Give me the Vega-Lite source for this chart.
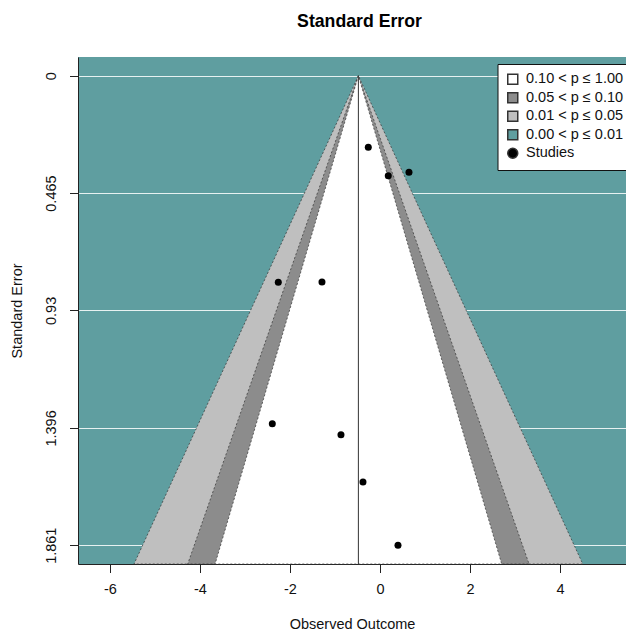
{
  "$schema": "https://vega.github.io/schema/vega-lite/v6.json",
  "width": 548,
  "height": 507,
  "autosize": {"type": "none"},
  "padding": {"left": 78, "top": 57, "right": 0, "bottom": 68},
  "background": "white",
  "config": {
    "view": {"fill": "#5F9EA0", "stroke": null},
    "font": "Liberation Sans"
  },
  "title": {
    "text": "Standard Error",
    "font": "Liberation Sans",
    "fontSize": 17.7,
    "fontWeight": "bold",
    "color": "black",
    "anchor": "middle",
    "dx": 7.5,
    "baseline": "alphabetic",
    "offset": 12
  },
  "datasets": {
    "contours": [
      {"level": "0.01 < p ≤ 0.05", "se": 0, "lo": -0.48, "hi": -0.48},
      {"level": "0.01 < p ≤ 0.05", "se": 1.9354, "lo": -5.466, "hi": 4.506},
      {"level": "0.05 < p ≤ 0.10", "se": 0, "lo": -0.48, "hi": -0.48},
      {"level": "0.05 < p ≤ 0.10", "se": 1.9354, "lo": -4.273, "hi": 3.313},
      {"level": "0.10 < p ≤ 1.00", "se": 0, "lo": -0.48, "hi": -0.48},
      {"level": "0.10 < p ≤ 1.00", "se": 1.9354, "lo": -3.664, "hi": 2.704}
    ],
    "estimate": [
      {"est": -0.48, "top": 0, "bottom": 1.9354}
    ],
    "studies": [
      {"level": "Studies", "yi": -0.26, "sei": 0.2835},
      {"level": "Studies", "yi": 0.184, "sei": 0.396},
      {"level": "Studies", "yi": 0.644, "sei": 0.382},
      {"level": "Studies", "yi": -2.26, "sei": 0.819},
      {"level": "Studies", "yi": -1.289, "sei": 0.818},
      {"level": "Studies", "yi": -2.393, "sei": 1.379},
      {"level": "Studies", "yi": -0.867, "sei": 1.423},
      {"level": "Studies", "yi": -0.378, "sei": 1.61},
      {"level": "Studies", "yi": 0.4, "sei": 1.861}
    ]
  },
  "encoding": {
    "x": {
      "type": "quantitative",
      "scale": {"domain": [-6.711, 5.467], "nice": false, "zero": false},
      "axis": {
        "title": "Observed Outcome",
        "values": [-6, -4, -2, 0, 2, 4],
        "labelExpr": "toString(datum.value)",
        "grid": false,
        "domainColor": "#222",
        "domainWidth": 1,
        "tickColor": "#222",
        "tickSize": 8.5,
        "tickWidth": 1,
        "labelFont": "Liberation Sans",
        "labelFontSize": 14.5,
        "labelColor": "#111",
        "labelPadding": 9.5,
        "labelFlush": false,
        "titleFont": "Liberation Sans",
        "titleFontSize": 14.5,
        "titleFontWeight": "normal",
        "titleColor": "#111",
        "titlePadding": 22
      }
    },
    "y": {
      "type": "quantitative",
      "scale": {"domain": [-0.0744, 1.9354], "reverse": true, "nice": false, "zero": false},
      "axis": {
        "title": "Standard Error",
        "values": [0, 0.465, 0.93, 1.396, 1.861],
        "labelExpr": "toString(datum.value)",
        "grid": true,
        "gridColor": "white",
        "gridWidth": 1,
        "gridOpacity": 0.85,
        "domainColor": "#222",
        "domainWidth": 1,
        "tickColor": "#222",
        "tickSize": 8.5,
        "tickWidth": 1,
        "labelAngle": 270,
        "labelAlign": "center",
        "labelBaseline": "alphabetic",
        "labelPadding": 14,
        "labelFlush": false,
        "labelFont": "Liberation Sans",
        "labelFontSize": 14.5,
        "labelColor": "#111",
        "titleFont": "Liberation Sans",
        "titleFontSize": 14.5,
        "titleFontWeight": "normal",
        "titleColor": "#111",
        "titlePadding": 19
      }
    }
  },
  "layer": [
    {
      "data": {"name": "contours"},
      "transform": [{"filter": "datum.level === '0.01 < p ≤ 0.05'"}],
      "mark": {"type": "area", "orient": "horizontal", "stroke": "#333", "strokeWidth": 0.7, "strokeDash": [2, 2], "opacity": 1},
      "encoding": {
        "x": {"field": "lo", "type": "quantitative"},
        "x2": {"field": "hi"},
        "y": {"field": "se", "type": "quantitative"},
        "fill": {"field": "level", "type": "nominal"}
      }
    },
    {
      "data": {"name": "contours"},
      "transform": [{"filter": "datum.level === '0.05 < p ≤ 0.10'"}],
      "mark": {"type": "area", "orient": "horizontal", "stroke": "#333", "strokeWidth": 0.7, "strokeDash": [2, 2], "opacity": 1},
      "encoding": {
        "x": {"field": "lo", "type": "quantitative"},
        "x2": {"field": "hi"},
        "y": {"field": "se", "type": "quantitative"},
        "fill": {"field": "level", "type": "nominal"}
      }
    },
    {
      "data": {"name": "contours"},
      "transform": [{"filter": "datum.level === '0.10 < p ≤ 1.00'"}],
      "mark": {"type": "area", "orient": "horizontal", "stroke": "#333", "strokeWidth": 0.7, "strokeDash": [2, 2], "opacity": 1},
      "encoding": {
        "x": {"field": "lo", "type": "quantitative"},
        "x2": {"field": "hi"},
        "y": {"field": "se", "type": "quantitative"},
        "fill": {"field": "level", "type": "nominal"}
      }
    },
    {
      "data": {"name": "estimate"},
      "mark": {"type": "rule", "color": "#333", "strokeWidth": 1},
      "encoding": {
        "x": {"field": "est", "type": "quantitative"},
        "y": {"field": "top", "type": "quantitative"},
        "y2": {"field": "bottom"}
      }
    },
    {
      "data": {"name": "studies"},
      "mark": {"type": "point", "filled": true, "size": 49, "opacity": 1},
      "encoding": {
        "x": {"field": "yi", "type": "quantitative"},
        "y": {"field": "sei", "type": "quantitative"},
        "shape": {
          "field": "level",
          "type": "nominal",
          "scale": {
            "domain": ["0.10 < p ≤ 1.00", "0.05 < p ≤ 0.10", "0.01 < p ≤ 0.05", "0.00 < p ≤ 0.01", "Studies"],
            "range": ["square", "square", "square", "square", "circle"]
          },
          "legend": {
            "title": null,
            "orient": "none",
            "legendX": 419.5,
            "legendY": 7,
            "fillColor": "white",
            "strokeColor": "#111",
            "padding": 8,
            "rowPadding": 1.5,
            "labelOffset": 6,
            "labelFont": "Liberation Sans",
            "labelFontSize": 14.5,
            "labelColor": "#111",
            "labelLimit": 400
          }
        },
        "fill": {
          "field": "level",
          "type": "nominal",
          "scale": {
            "domain": ["0.10 < p ≤ 1.00", "0.05 < p ≤ 0.10", "0.01 < p ≤ 0.05", "0.00 < p ≤ 0.01", "Studies"],
            "range": ["white", "#8C8C8C", "#BFBFBF", "#5F9EA0", "black"]
          },
          "legend": {
            "title": null,
            "orient": "none",
            "legendX": 419.5,
            "legendY": 7,
            "fillColor": "white",
            "strokeColor": "#111",
            "padding": 8,
            "rowPadding": 1.5,
            "labelOffset": 6,
            "labelFont": "Liberation Sans",
            "labelFontSize": 14.5,
            "labelColor": "#111",
            "labelLimit": 400,
            "encode": {
              "symbols": {
                "enter": {
                  "size": {"signal": "datum.label === 'Studies' ? 36 : 86"}
                },
                "update": {
                  "size": {"signal": "datum.label === 'Studies' ? 36 : 86"},
                  "stroke": {"signal": "datum.label === 'Studies' ? 'transparent' : '#222'"},
                  "strokeWidth": {"value": 0.8},
                  "strokeDash": {"value": [1, 0]},
                  "fillOpacity": {"value": 1},
                  "opacity": {"value": 1}
                }
              }
            }
          }
        }
      }
    }
  ]
}
